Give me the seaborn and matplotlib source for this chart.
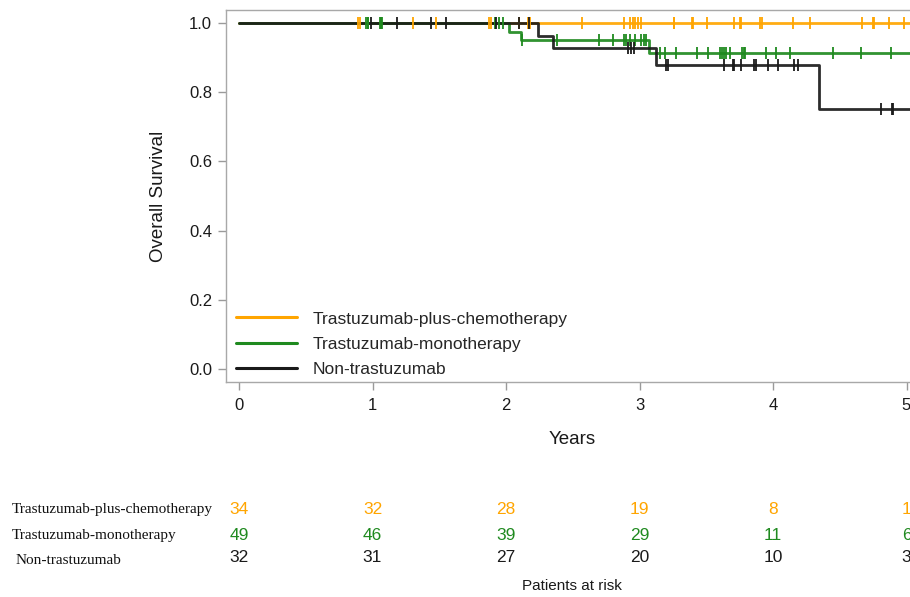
import numpy as np
import pandas as pd
import matplotlib
matplotlib.use("Agg")
import matplotlib.pyplot as plt
import matplotlib.transforms as mtransforms
from matplotlib import font_manager
from matplotlib.lines import Line2D
import seaborn as sns

# ---------------- data ----------------
groups = ["Trastuzumab-plus-chemotherapy", "Trastuzumab-monotherapy", "Non-trastuzumab"]
colors = ["#FFA500", "#1F8A1F", "#1A1A1A"]

# event (death) times and survival after each event
tpc_event_times = []
tpc_event_surv = []
tm_event_times = [2.02, 2.11, 3.07]
tm_event_surv = [0.974, 0.949, 0.913]
nt_event_times = [2.24, 2.35, 3.125, 4.345]
nt_event_surv = [0.963, 0.926, 0.877, 0.751]

# censoring times
tpc_censor = [0.89, 0.91, 1.30, 1.475, 1.87, 1.89, 2.10, 2.165, 2.18, 2.567, 2.885,
              2.93, 2.95, 2.97, 2.99, 3.01, 3.255, 3.26, 3.39, 3.40, 3.505, 3.71,
              3.75, 3.76, 3.905, 3.915, 4.15, 4.28, 4.67, 4.75, 4.76, 4.87, 4.985]
tm_censor = [0.955, 0.965, 0.97, 1.055, 1.06, 1.065, 1.07, 1.92, 1.95, 1.98, 2.12,
             2.385, 2.70, 2.80, 2.885, 2.90, 2.93, 2.97, 3.01, 3.03, 3.05, 3.15,
             3.19, 3.27, 3.43, 3.51, 3.60, 3.62, 3.63, 3.645, 3.68, 3.77, 3.785,
             3.79, 3.945, 4.025, 4.13, 4.45, 4.66, 4.885]
nt_censor = [0.99, 1.185, 1.44, 1.55, 1.925, 2.10, 2.17, 2.915, 2.94, 2.96, 3.20,
             3.215, 3.635, 3.70, 3.705, 3.76, 3.855, 3.875, 3.96, 4.04, 4.155,
             4.19, 4.81, 4.89, 4.90]
last_follow_up = [5.4, 5.4, 5.4]

# patients at risk table
risk_years = [0, 1, 2, 3, 4, 5]
tpc_at_risk = [34, 32, 28, 19, 8, 1]
tm_at_risk = [49, 46, 39, 29, 11, 6]
nt_at_risk = [32, 31, 27, 20, 10, 3]

y_ticks = [0.0, 0.2, 0.4, 0.6, 0.8, 1.0]
x_ticks = [0, 1, 2, 3, 4, 5]

# ---------------- build frames ----------------
event_times = [tpc_event_times, tm_event_times, nt_event_times]
event_surv = [tpc_event_surv, tm_event_surv, nt_event_surv]
censors = [tpc_censor, tm_censor, nt_censor]
at_risk = [tpc_at_risk, tm_at_risk, nt_at_risk]

curve_frames, cens_frames = [], []
for g, et, es, ce, lf in zip(groups, event_times, event_surv, censors, last_follow_up):
    t = [0.0] + list(et) + [lf]
    s = [1.0] + list(es) + [es[-1] if es else 1.0]
    curve_frames.append(pd.DataFrame({"time": t, "surv": s, "group": g}))
    et_arr = np.array([0.0] + list(et))
    es_arr = np.array([1.0] + list(es))
    idx = np.searchsorted(et_arr, np.array(ce), side="right") - 1
    cens_frames.append(pd.DataFrame({"time": ce, "surv": es_arr[idx], "group": g}))

# ---------------- fonts ----------------
sns.set_style("white")
avail = {f.name for f in font_manager.fontManager.ttflist}
sans = "Liberation Sans" if "Liberation Sans" in avail else "DejaVu Sans"
narrow = "Liberation Sans Narrow" if "Liberation Sans Narrow" in avail else sans
serif = "Liberation Serif" if "Liberation Serif" in avail else "DejaVu Serif"
plt.rcParams["font.family"] = [sans, "DejaVu Sans"]

W, H = 910, 597
fig = plt.figure(figsize=(W / 100, H / 100), dpi=100)

# axes geometry in pixels
ax_left_px, ax_top_px, ax_bottom_px = 226, 10, 381.5
x0_px, px_per_year = 239, 133.5
xmin = (ax_left_px - x0_px) / px_per_year
xmax = 5.2
ax_right_px = x0_px + xmax * px_per_year
y1_px, y0_px = 22.7, 369.3
px_per_unit = y0_px - y1_px
ymin = -(ax_bottom_px - y0_px) / px_per_unit
ymax = 1 + (y1_px - ax_top_px) / px_per_unit

ax = fig.add_axes([ax_left_px / W, 1 - ax_bottom_px / H,
                   (ax_right_px - ax_left_px) / W, (ax_bottom_px - ax_top_px) / H])

for df, c in zip(curve_frames, colors):
    sns.lineplot(data=df, x="time", y="surv", color=c, drawstyle="steps-post",
                 estimator=None, sort=True, lw=2.0, ax=ax, legend=False, alpha=0.92)
for df, c in zip(cens_frames, colors):
    sns.scatterplot(data=df, x="time", y="surv", marker="|", s=70, linewidth=1.3,
                    color=c, ax=ax, legend=False, zorder=3)

ax.set_xlim(xmin, xmax)
ax.set_ylim(ymin, ymax)
ax.set_xticks(x_ticks)
ax.set_yticks(y_ticks)
ax.set_yticklabels([f"{v:.1f}" for v in y_ticks])
ax.tick_params(axis="both", which="major", direction="out", length=6, width=1,
               color="#9a9a9a", labelsize=12, pad=4, labelcolor="#1a1a1a",
               bottom=True, left=True, top=False, right=False)
ax.tick_params(axis="x", pad=6)
for sp in ax.spines.values():
    sp.set_color("#a8a8a8")
    sp.set_linewidth(1.0)

ax.set_xlabel("Years", fontsize=13.5, color="#1a1a1a")
ax.set_ylabel("Overall Survival", fontsize=13.5, color="#1a1a1a")
axw = ax_right_px - ax_left_px
axh = ax_bottom_px - ax_top_px
ax.xaxis.set_label_coords((572 - ax_left_px) / axw, -(431 - ax_bottom_px) / axh)
ax.yaxis.set_label_coords(-(ax_left_px - 167) / axw, (ax_bottom_px - 196) / axh)

handles = [Line2D([], [], color=c, lw=2.2) for c in colors]
ax.legend(handles, groups, loc="lower left", frameon=False, fontsize=12.5,
          handlelength=3.5, handletextpad=0.9, labelspacing=0.58, borderpad=0,
          borderaxespad=0,
          bbox_to_anchor=((236 - ax_left_px) / axw, (ax_bottom_px - 377) / axh))

# ---------------- at-risk table ----------------
blend = mtransforms.blended_transform_factory(ax.transData, fig.transFigure)
row_y_px = [509, 535, 557]
label_y_px = [509, 535, 560]
label_x_px = [12, 12, 16]
for g, c, ar, ly, lyy, lx in zip(groups, colors, at_risk, row_y_px, label_y_px, label_x_px):
    fig.text(lx / W, 1 - lyy / H, g, family=[serif, "DejaVu Serif"], fontsize=11,
             ha="left", va="center", color="#111111")
    for yr, n in zip(risk_years, ar):
        ax.text(yr, 1 - ly / H, str(n), transform=blend, ha="center", va="center",
                fontsize=12.5, color=c, family=[narrow, sans, "DejaVu Sans"], clip_on=False)

fig.text(572 / W, 1 - 586 / H, "Patients at risk", ha="center", va="center",
         fontsize=11, color="#1a1a1a")

fig.savefig("out.png", dpi=100)
